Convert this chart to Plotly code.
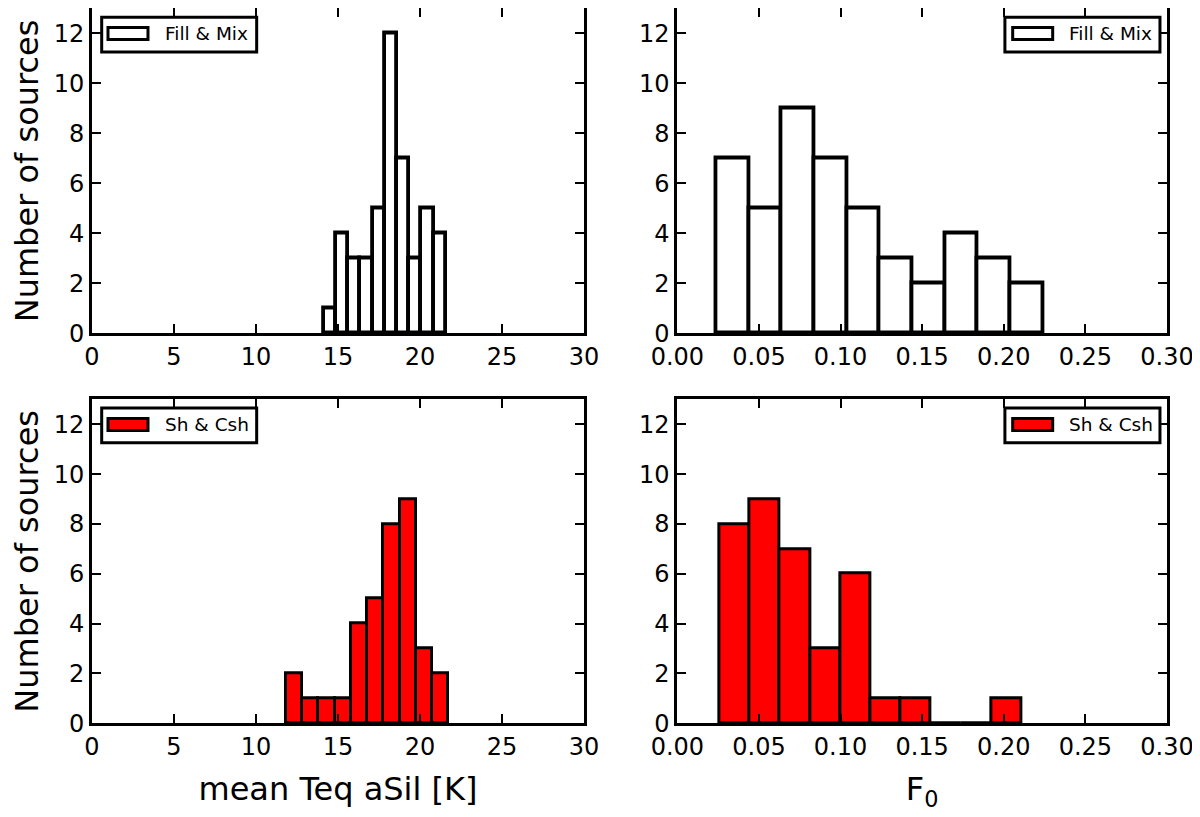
import plotly.graph_objects as go
from plotly.subplots import make_subplots

# bin edges and counts
teq_fill_edges = [14.14, 14.88, 15.63, 16.37, 17.12, 17.86, 18.60, 19.35, 20.09, 20.84, 21.58]
teq_fill_counts = [1, 4, 3, 3, 5, 12, 7, 3, 5, 4]

f0_fill_edges = [0.024, 0.044, 0.064, 0.084, 0.104, 0.124, 0.144, 0.164, 0.184, 0.204, 0.224]
f0_fill_counts = [7, 5, 9, 7, 5, 3, 2, 4, 3, 2]

teq_sh_edges = [11.83, 12.82, 13.81, 14.80, 15.79, 16.78, 17.77, 18.76, 19.75, 20.74, 21.72]
teq_sh_counts = [2, 1, 1, 1, 4, 5, 8, 9, 3, 2]

f0_sh_edges = [0.0258, 0.0443, 0.0628, 0.0813, 0.0998, 0.1183, 0.1368, 0.1553, 0.1738, 0.1923, 0.2108]
f0_sh_counts = [8, 9, 7, 3, 6, 1, 1, 0, 0, 1]

teq_ticks = [0, 5, 10, 15, 20, 25, 30]
f0_ticks = [0.0, 0.05, 0.10, 0.15, 0.20, 0.25, 0.30]
count_ticks = [0, 2, 4, 6, 8, 10, 12]

FONT = "DejaVu Sans"
RED = "#ff0000"


def hist_bar(edges, counts, name, color, lw):
    centers = [(a + b) / 2 for a, b in zip(edges[:-1], edges[1:])]
    widths = [b - a for a, b in zip(edges[:-1], edges[1:])]
    return go.Bar(
        x=centers, y=counts, width=widths, name=name, showlegend=False,
        marker=dict(color=color, line=dict(color="black", width=lw)),
    )


fig = make_subplots(rows=2, cols=2)
fig.add_trace(hist_bar(teq_fill_edges, teq_fill_counts, "Fill & Mix", "white", 3.8), 1, 1)
fig.add_trace(hist_bar(f0_fill_edges, f0_fill_counts, "Fill & Mix", "white", 3.8), 1, 2)
fig.add_trace(hist_bar(teq_sh_edges, teq_sh_counts, "Sh & Csh", RED, 3), 2, 1)
fig.add_trace(hist_bar(f0_sh_edges, f0_sh_counts, "Sh & Csh", RED, 3), 2, 2)

# panel positions (fractions of the page; page sits 8px in from the window edge)
left_dom = [0.070, 0.480]
right_dom = [0.5578, 0.9658]
top_dom = [0.6016, 0.9995]
bot_dom = [0.1245, 0.521]

axis_style = dict(
    showline=True, linecolor="black", linewidth=3, mirror="allticks",
    ticks="inside", ticklen=9, tickwidth=1.5, tickcolor="black",
    showgrid=False, zeroline=False, automargin=False,
    tickfont=dict(family=FONT, size=24, color="black"),
)

for r, c, dx, dy, ticks, rng in [
    (1, 1, left_dom, top_dom, teq_ticks, [0, 30]),
    (1, 2, right_dom, top_dom, f0_ticks, [0, 0.3]),
    (2, 1, left_dom, bot_dom, teq_ticks, [0, 30]),
    (2, 2, right_dom, bot_dom, f0_ticks, [0, 0.3]),
]:
    fmt = ".2f" if rng[1] < 1 else "d"
    fig.update_xaxes(domain=dx, range=rng, tickvals=ticks, tickformat=fmt,
                     row=r, col=c, **axis_style)
    fig.update_yaxes(domain=dy, range=[0, 13], tickvals=count_ticks,
                     row=r, col=c, **axis_style)

title_font = dict(family=FONT, size=32, color="black")
fig.update_yaxes(title_text="Number of sources", title_font=title_font, title_standoff=22, col=1)
fig.update_xaxes(title_text="mean Teq aSil [K]", title_font=title_font, title_standoff=18, row=2, col=1)
fig.update_xaxes(title_text="F<sub>0</sub>", title_font=title_font, title_standoff=18, row=2, col=2)

# matplotlib-style legend boxes (wide swatch + label) drawn in each panel
legends = [
    ("x", "y", "Fill & Mix", "white", "left"),
    ("x2", "y2", "Fill & Mix", "white", "right"),
    ("x3", "y3", "Sh & Csh", RED, "left"),
    ("x4", "y4", "Sh & Csh", RED, "right"),
]
for xa, ya, label, color, side in legends:
    xr, yr = xa + " domain", ya + " domain"
    if side == "left":
        bx0, bx1, sx0, sx1, tx = 0.0197, 0.3347, 0.0325, 0.1138, 0.1443
    else:
        bx0, bx1, sx0, sx1, tx = 0.669, 0.9857, 0.6849, 0.7666, 0.7962
    fig.add_shape(type="rect", xref=xr, yref=yr, x0=bx0, x1=bx1, y0=0.866, y1=0.973,
                  fillcolor="white", line=dict(color="black", width=3), layer="above")
    fig.add_shape(type="rect", xref=xr, yref=yr, x0=sx0, x1=sx1, y0=0.904, y1=0.941,
                  fillcolor=color, line=dict(color="black", width=3), layer="above")
    fig.add_annotation(xref=xr, yref=yr, x=tx, y=0.922, text=label, showarrow=False,
                       xanchor="left", yanchor="middle",
                       font=dict(family=FONT, size=18.5, color="black"))

fig.update_layout(
    width=1200, height=817,
    paper_bgcolor="white", plot_bgcolor="white",
    margin=dict(l=0, r=0, t=0, b=0),
    bargap=0,
    showlegend=False,
)

fig.write_html("out.html")
